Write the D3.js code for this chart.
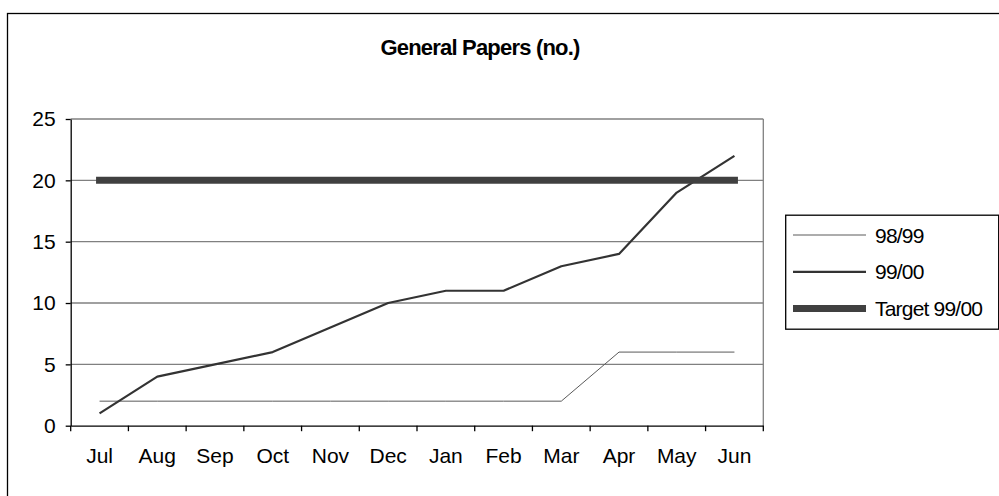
<!DOCTYPE html>
<html>
<head>
<meta charset="utf-8">
<script src="https://cdn.jsdelivr.net/npm/d3@7/dist/d3.min.js"></script>
<style>
  html, body { margin: 0; padding: 0; background: #fff; }
  svg { display: block; font-family: Arial, "Liberation Sans", sans-serif; }
</style>
</head>
<body>
<svg id="chart" width="999" height="496"></svg>
<script>
// Monthly counts of general papers, financial year July–June
const months = ["Jul", "Aug", "Sep", "Oct", "Nov", "Dec", "Jan", "Feb", "Mar", "Apr", "May", "Jun"];
const papers9899 = [2, 2, 2, 2, 2, 2, 2, 2, 2, 6, 6, 6];
const papers9900 = [1, 4, 5, 6, 8, 10, 11, 11, 13, 14, 19, 22];
const target9900 = [20, 20, 20, 20, 20, 20, 20, 20, 20, 20, 20, 20];
const yTicks = [0, 5, 10, 15, 20, 25];

const series = [
  { name: "98/99", values: papers9899, color: "#5a5a5a", width: 1 },
  { name: "99/00", values: papers9900, color: "#333333", width: 2.2 },
  { name: "Target 99/00", values: target9900, color: "#404040", width: 7 }
];

const svg = d3.select("#chart");
const plot = { left: 70.7, right: 763.3, top: 119, bottom: 425.7 };
const font = "Arial, 'Liberation Sans', sans-serif";

// Outer chart frame
svg.append("rect")
  .attr("x", 7.5).attr("y", 13.5)
  .attr("width", 1000).attr("height", 500)
  .attr("fill", "none").attr("stroke", "#000").attr("stroke-width", 1.3);

// Title
svg.append("text")
  .attr("x", 480).attr("y", 55)
  .attr("text-anchor", "middle")
  .attr("font-size", 22).attr("font-weight", "bold")
  .attr("letter-spacing", -0.8)
  .attr("fill", "#000")
  .text("General Papers (no.)");

const x = d3.scaleBand().domain(months).range([plot.left, plot.right]);
const y = d3.scaleLinear().domain([0, 25]).range([plot.bottom, plot.top]);
const cx = m => x(m) + x.bandwidth() / 2;

// Horizontal gridlines
svg.append("g").selectAll("line")
  .data(yTicks.filter(t => t > 0))
  .join("line")
  .attr("x1", plot.left).attr("x2", plot.right)
  .attr("y1", d => y(d)).attr("y2", d => y(d))
  .attr("stroke", "#808080").attr("stroke-width", 1.3);

// Right edge of plot area
svg.append("line")
  .attr("x1", plot.right).attr("x2", plot.right)
  .attr("y1", plot.top).attr("y2", plot.bottom)
  .attr("stroke", "#808080").attr("stroke-width", 1.3);

// Y axis
const yAxis = d3.axisLeft(y).tickValues(yTicks).tickSize(5).tickPadding(10).tickSizeOuter(0);
const gy = svg.append("g").attr("transform", `translate(${plot.left},0)`).call(yAxis);
gy.select(".domain").attr("stroke", "#000").attr("stroke-width", 1.3);
gy.selectAll(".tick line").attr("stroke", "#000").attr("stroke-width", 1.3);
gy.selectAll(".tick text").attr("font-size", 21).attr("fill", "#000").attr("font-family", font);

// X axis: labels centred in each month, ticks at month boundaries
const xAxis = d3.axisBottom(x).tickSize(0).tickPadding(22.4).tickSizeOuter(0);
const gx = svg.append("g").attr("transform", `translate(0,${plot.bottom})`).call(xAxis);
gx.select(".domain").attr("stroke", "#000").attr("stroke-width", 1.3);
gx.selectAll(".tick text").attr("font-size", 21).attr("fill", "#000").attr("font-family", font);
const bounds = months.map(m => x(m)).concat([x(months[months.length - 1]) + x.bandwidth()]);
svg.append("g").selectAll("line")
  .data(bounds)
  .join("line")
  .attr("x1", d => d).attr("x2", d => d)
  .attr("y1", plot.bottom).attr("y2", plot.bottom + 5.5)
  .attr("stroke", "#000").attr("stroke-width", 1.3);

// Series lines
const line = d3.line().x((d, i) => cx(months[i])).y(d => y(d));
svg.append("g").selectAll("path")
  .data(series)
  .join("path")
  .attr("d", s => line(s.values))
  .attr("fill", "none")
  .attr("stroke", s => s.color)
  .attr("stroke-width", s => s.width)
  .attr("stroke-linecap", s => s.width > 3 ? "square" : "butt")
  .attr("stroke-linejoin", "round");

// Legend
const lg = svg.append("g");
lg.append("rect")
  .attr("x", 785.7).attr("y", 215.2)
  .attr("width", 213).attr("height", 114)
  .attr("fill", "#fff").attr("stroke", "#000").attr("stroke-width", 1.3);
const rows = lg.selectAll("g.row")
  .data(series)
  .join("g")
  .attr("class", "row")
  .attr("transform", (d, i) => `translate(0,${235 + i * 36.8})`);
rows.append("line")
  .attr("x1", 793).attr("x2", 866)
  .attr("y1", 0).attr("y2", 0)
  .attr("stroke", d => d.color)
  .attr("stroke-width", d => d.width);
rows.append("text")
  .attr("x", 875).attr("y", 7.5)
  .attr("font-size", 21)
  .attr("letter-spacing", -0.8)
  .attr("fill", "#000")
  .text(d => d.name);
</script>
</body>
</html>
